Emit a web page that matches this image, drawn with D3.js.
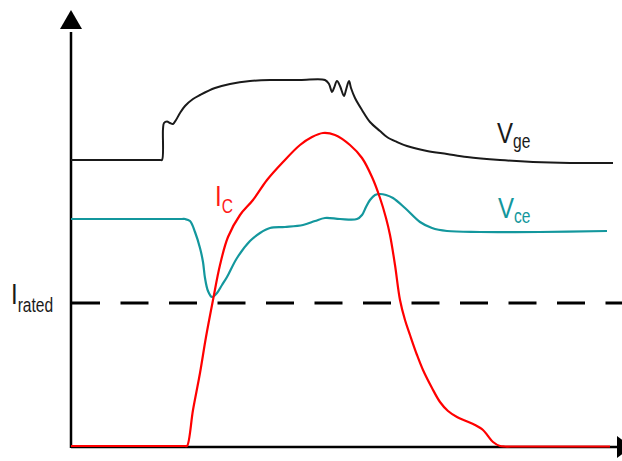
<!DOCTYPE html>
<html>
<head>
<meta charset="utf-8">
<script src="https://cdn.jsdelivr.net/npm/d3@7/dist/d3.min.js"></script>
<style>
  html, body { margin: 0; padding: 0; background: #fff; }
  svg { display: block; }
  text { font-family: "Liberation Sans", Arial, sans-serif; }
</style>
</head>
<body>
<svg id="chart" width="622" height="461"></svg>
<script>
// ---- Data (time units along x, signal level along y) ----
const vgeTime = [0, 89, 91, 92, 93, 96, 99, 102, 105, 109, 114, 122, 129, 144, 159, 179, 199, 229, 254, 258, 261, 263, 266, 269, 273, 275, 278, 280, 284, 291, 299, 309, 316, 326, 336, 356, 376, 396, 429, 462, 499, 542];
const vgeLevel = [287, 287, 287, 318, 324, 325.5, 324, 323, 327, 334, 341, 348, 352, 359, 363, 366, 367, 367, 367, 363, 355, 359, 366, 361, 351, 357, 366, 359, 349, 337, 325, 316, 310, 305, 301, 296, 293, 290, 287, 285, 284, 284];

const icTime = [0, 114, 116, 122, 129, 135, 142, 149, 157, 169, 182, 196, 212, 229, 241, 252, 264, 279, 291, 301, 309, 315, 319, 324, 329, 334, 339, 346, 352, 361, 369, 377, 386, 395, 404, 412, 417, 422, 429, 434, 440, 539];
const icLevel = [1, 1, 1, 37, 74, 110, 147, 182, 210, 232, 247, 267, 285, 302, 310, 314, 312, 302, 289, 270, 249, 229, 212, 182, 147, 127, 112, 92, 77, 59, 45, 36, 30, 26, 22, 17, 11, 5, 1, 0.5, 0.5, 0.5];

const vceTime = [0, 111, 114, 119, 124, 129, 132, 134, 137, 141, 146, 151, 156, 166, 179, 189, 199, 214, 232, 244, 254, 269, 286, 291, 295, 299, 304, 309, 315, 322, 334, 349, 361, 376, 409, 469, 536];
const vceLevel = [228, 228, 228, 226, 215, 199, 185, 169, 156, 150, 154, 162, 170, 189, 206, 214, 219, 220, 222, 226, 229, 228, 228, 232, 240, 247, 252, 253, 252, 249, 239, 225, 219, 216, 215, 215, 216];

const iRatedLevel = 144;
const labels = { vge: ["V", "ge"], vce: ["V", "ce"], ic: ["I", "C"], irated: ["I", "rated"] };

// ---- Scales ----
const x = d3.scaleLinear().domain([0, 551]).range([71, 622]);
const y = d3.scaleLinear().domain([0, 440]).range([447, 7]);

const svg = d3.select("#chart");

const line = d3.line()
  .x(d => x(d[0]))
  .y(d => y(d[1]))
  .curve(d3.curveCatmullRom.alpha(0.5));

const zip = (a, b) => a.map((v, i) => [v, b[i]]);

// ---- Axes ----
const axisColor = "#000";
svg.append("line")
  .attr("x1", x(0)).attr("x2", x(0))
  .attr("y1", y(0) + 1).attr("y2", y(415))
  .attr("stroke", axisColor).attr("stroke-width", 2.5);
svg.append("path")
  .attr("d", `M${x(0)},${y(437)} L${x(0) - 11},${y(418)} L${x(0) + 11},${y(418)} Z`)
  .attr("fill", axisColor);
svg.append("line")
  .attr("x1", x(0)).attr("x2", x(547))
  .attr("y1", y(0)).attr("y2", y(0))
  .attr("stroke", axisColor).attr("stroke-width", 2.5);
svg.append("path")
  .attr("d", `M${x(561)},${y(0)} L${x(546)},${y(11)} L${x(546)},${y(-11)} Z`)
  .attr("fill", axisColor);

// ---- Rated current dashed line ----
svg.append("line")
  .attr("x1", x(0)).attr("x2", x(551))
  .attr("y1", y(iRatedLevel)).attr("y2", y(iRatedLevel))
  .attr("stroke", "#000").attr("stroke-width", 3)
  .attr("stroke-dasharray", "28,20.5")
  .attr("stroke-dashoffset", -1);

// ---- Curves ----
svg.append("path")
  .datum(zip(vgeTime, vgeLevel))
  .attr("d", line)
  .attr("fill", "none").attr("stroke", "#1a1a1a").attr("stroke-width", 2)
  .attr("stroke-linejoin", "round");

svg.append("path")
  .datum(zip(vceTime, vceLevel))
  .attr("d", line)
  .attr("fill", "none").attr("stroke", "#13979d").attr("stroke-width", 2.2)
  .attr("stroke-linejoin", "round");

svg.append("path")
  .datum(zip(icTime, icLevel))
  .attr("d", line)
  .attr("fill", "none").attr("stroke", "#ff0000").attr("stroke-width", 2.2)
  .attr("stroke-linejoin", "round");

// ---- Labels (condensed look via horizontal scaling) ----
function label(parts, px, py, color, subDy) {
  const g = svg.append("g").attr("transform", `translate(${px},${py}) scale(0.8,1)`);
  const t = g.append("text").attr("x", 0).attr("y", 0).attr("fill", color);
  t.append("tspan").attr("font-size", 30).text(parts[0]);
  t.append("tspan").attr("font-size", 19.5).attr("dy", subDy).text(parts[1]);
}
label(labels.irated, 11, 303.5, "#1a1a1a", 8.5);
label(labels.ic, 215, 206, "#ff1a1a", 7);
label(labels.vge, 497, 143, "#1a1a1a", 5);
label(labels.vce, 498, 218, "#13979d", 5);
</script>
</body>
</html>
